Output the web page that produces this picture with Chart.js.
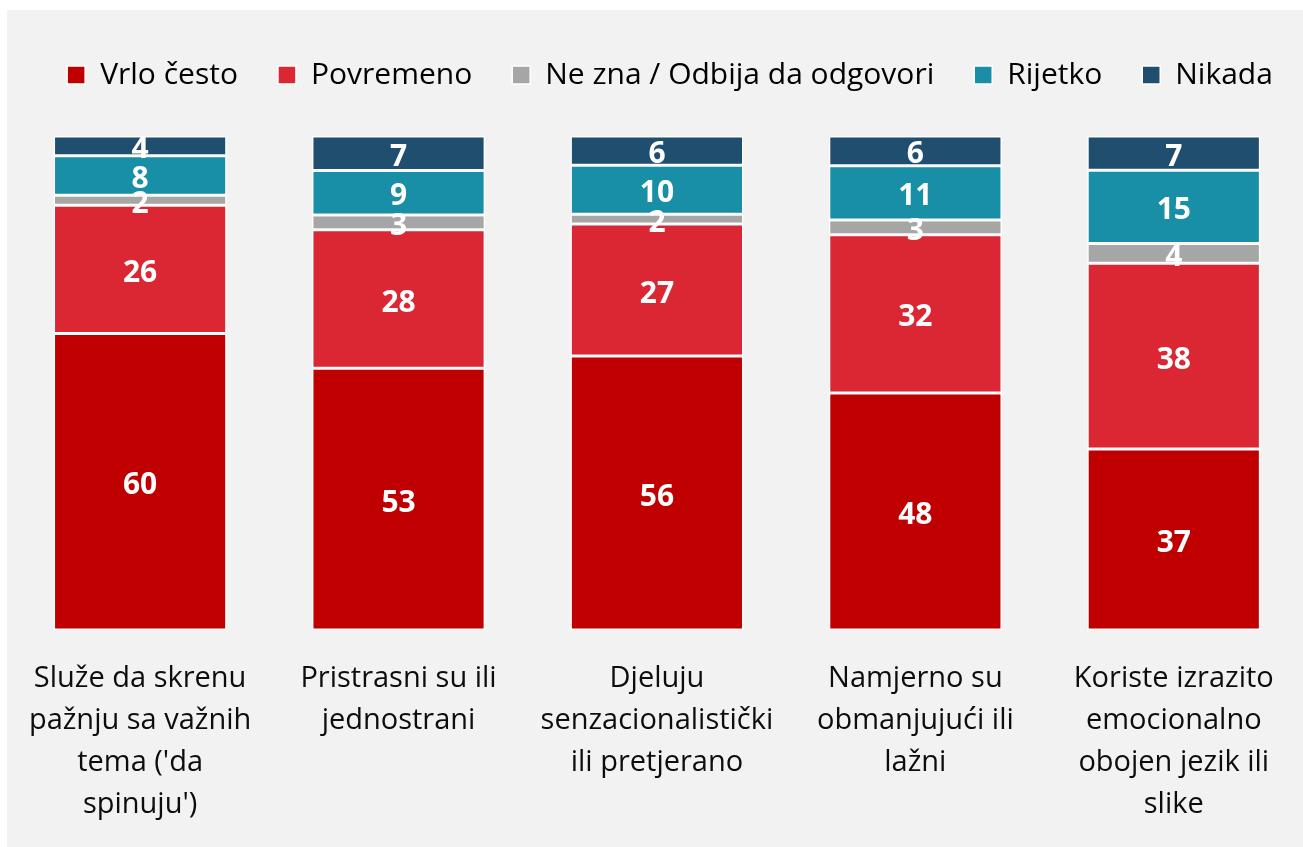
<!DOCTYPE html>
<html lang="bs">
<head>
    <meta charset="UTF-8">
    <title>Stacked bars</title>
    <script src="https://cdn.jsdelivr.net/npm/chart.js"></script>
    <style>
        html, body {
            margin: 0;
            padding: 0;
            background: #ffffff;
        }
        .chart-wrap {
            width: 1303px;
            height: 847px;
        }
    </style>
</head>
<body>
    <div class="chart-wrap">
        <canvas id="stackChart"></canvas>
    </div>

    <script>
        // Data
        const categories = [
            ["Služe da skrenu", "pažnju sa važnih", "tema ('da", "spinuju')"],
            ["Pristrasni su ili", "jednostrani"],
            ["Djeluju", "senzacionalistički", "ili pretjerano"],
            ["Namjerno su", "obmanjujući ili", "lažni"],
            ["Koriste izrazito", "emocionalno", "obojen jezik ili", "slike"]
        ];
        const seriesNames = ["Vrlo često", "Povremeno", "Ne zna / Odbija da odgovori", "Rijetko", "Nikada"];
        const vrloCesto = [60, 53, 56, 48, 37];
        const povremeno = [26, 28, 27, 32, 38];
        const neZna = [2, 3, 2, 3, 4];
        const rijetko = [8, 9, 10, 11, 15];
        const nikada = [4, 7, 6, 6, 7];
        const seriesColors = ["#C00000", "#DA2733", "#A6A6A6", "#198EA7", "#1F4E6F"];

        const rawSeries = [vrloCesto, povremeno, neZna, rijetko, nikada];
        // 100% stacked, like the original: each column is scaled to its total
        const totals = categories.map((c, i) => rawSeries.reduce((s, arr) => s + arr[i], 0));

        const fontFamily = "'Open Sans', 'Noto Sans', sans-serif";

        const panelBackground = {
            id: 'panelBackground',
            beforeDraw(chart) {
                const ctx = chart.ctx;
                ctx.save();
                ctx.fillStyle = '#F2F2F2';
                ctx.fillRect(7, 10, chart.width - 7, chart.height - 10);
                ctx.restore();
            }
        };

        // extra room under the legend, and nudge it a bit to the right
        const legendSpacing = {
            id: 'legendSpacing',
            beforeInit(chart) {
                const origFit = chart.legend.fit;
                chart.legend.fit = function () {
                    origFit.call(this);
                    this.height += 36;
                };
            },
            afterLayout(chart) {
                chart.legend.left += 14;
                chart.legend.right += 14;
            }
        };

        // white value labels in the middle of every segment
        const segmentLabels = {
            id: 'segmentLabels',
            afterDatasetsDraw(chart) {
                const ctx = chart.ctx;
                ctx.save();
                ctx.fillStyle = '#ffffff';
                ctx.font = "bold 30px " + fontFamily;
                ctx.textAlign = 'center';
                ctx.textBaseline = 'middle';
                chart.data.datasets.forEach((ds, di) => {
                    const meta = chart.getDatasetMeta(di);
                    meta.data.forEach((bar, i) => {
                        const p = bar.getProps(['x', 'y', 'base'], true);
                        ctx.fillText(String(ds.rawValues[i]), p.x, (p.y + p.base) / 2 + 4);
                    });
                });
                ctx.restore();
            }
        };

        const ctx = document.getElementById('stackChart').getContext('2d');
        new Chart(ctx, {
            type: 'bar',
            data: {
                labels: categories,
                datasets: rawSeries.map((arr, k) => ({
                    label: seriesNames[k],
                    data: arr.map((v, i) => v * 100 / totals[i]),
                    rawValues: arr,
                    backgroundColor: seriesColors[k],
                    borderColor: '#ffffff',
                    borderWidth: 1.5,
                    borderSkipped: false,
                    barPercentage: 0.67,
                    categoryPercentage: 1
                }))
            },
            options: {
                responsive: true,
                maintainAspectRatio: false,
                animation: false,
                layout: {
                    padding: { left: 9, right: 0, top: 20, bottom: -7 }
                },
                plugins: {
                    legend: {
                        position: 'top',
                        labels: {
                            boxWidth: 18,
                            boxHeight: 18,
                            padding: 40,
                            color: '#000000',
                            font: { family: fontFamily, size: 30 }
                        }
                    },
                    tooltip: { enabled: false }
                },
                scales: {
                    x: {
                        stacked: true,
                        grid: { display: false, drawTicks: false },
                        border: { display: false },
                        ticks: {
                            color: '#0d0d0d',
                            padding: 28,
                            maxRotation: 0,
                            autoSkip: false,
                            font: { family: fontFamily, size: 29, lineHeight: 1.448 }
                        }
                    },
                    y: {
                        stacked: true,
                        display: false,
                        min: 0,
                        max: 100
                    }
                }
            },
            plugins: [panelBackground, legendSpacing, segmentLabels]
        });
    </script>
</body>
</html>
